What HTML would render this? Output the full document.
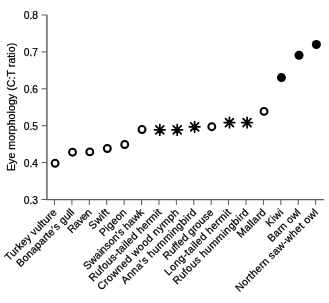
<!DOCTYPE html>
<html><head><meta charset="utf-8"><style>
html,body{margin:0;padding:0;background:#fff;width:329px;height:303px;overflow:hidden}
svg{display:block;font-family:"Liberation Sans",sans-serif;fill:#000;will-change:transform}
text{stroke:#000;stroke-width:0.25px}
</style></head><body>
<svg width="329" height="303" viewBox="0 0 329 303">
<path d="M46.95,15V199.5" stroke="#181818" stroke-width="1" fill="none"/>
<path d="M46.45,199.5H324" stroke="#5e5e5e" stroke-width="1.25" fill="none"/>
<line x1="41.5" y1="199.50" x2="46.95" y2="199.50" stroke="#5a5a5a" stroke-width="1.0"/>
<text x="38" y="203.50" text-anchor="end" font-size="10.3">0.3</text>
<line x1="41.5" y1="162.60" x2="46.95" y2="162.60" stroke="#5a5a5a" stroke-width="1.0"/>
<text x="38" y="166.60" text-anchor="end" font-size="10.3">0.4</text>
<line x1="41.5" y1="125.70" x2="46.95" y2="125.70" stroke="#5a5a5a" stroke-width="1.0"/>
<text x="38" y="129.70" text-anchor="end" font-size="10.3">0.5</text>
<line x1="41.5" y1="88.80" x2="46.95" y2="88.80" stroke="#5a5a5a" stroke-width="1.0"/>
<text x="38" y="92.80" text-anchor="end" font-size="10.3">0.6</text>
<line x1="41.5" y1="51.90" x2="46.95" y2="51.90" stroke="#5a5a5a" stroke-width="1.0"/>
<text x="38" y="55.90" text-anchor="end" font-size="10.3">0.7</text>
<line x1="41.5" y1="15.00" x2="46.95" y2="15.00" stroke="#5a5a5a" stroke-width="1.0"/>
<text x="38" y="19.00" text-anchor="end" font-size="10.3">0.8</text>
<line x1="54.50" y1="199.5" x2="54.50" y2="205" stroke="#5a5a5a" stroke-width="1.0"/>
<line x1="71.91" y1="199.5" x2="71.91" y2="205" stroke="#5a5a5a" stroke-width="1.0"/>
<line x1="89.32" y1="199.5" x2="89.32" y2="205" stroke="#5a5a5a" stroke-width="1.0"/>
<line x1="106.73" y1="199.5" x2="106.73" y2="205" stroke="#5a5a5a" stroke-width="1.0"/>
<line x1="124.14" y1="199.5" x2="124.14" y2="205" stroke="#5a5a5a" stroke-width="1.0"/>
<line x1="141.55" y1="199.5" x2="141.55" y2="205" stroke="#5a5a5a" stroke-width="1.0"/>
<line x1="158.96" y1="199.5" x2="158.96" y2="205" stroke="#5a5a5a" stroke-width="1.0"/>
<line x1="176.37" y1="199.5" x2="176.37" y2="205" stroke="#5a5a5a" stroke-width="1.0"/>
<line x1="193.78" y1="199.5" x2="193.78" y2="205" stroke="#5a5a5a" stroke-width="1.0"/>
<line x1="211.19" y1="199.5" x2="211.19" y2="205" stroke="#5a5a5a" stroke-width="1.0"/>
<line x1="228.60" y1="199.5" x2="228.60" y2="205" stroke="#5a5a5a" stroke-width="1.0"/>
<line x1="246.01" y1="199.5" x2="246.01" y2="205" stroke="#5a5a5a" stroke-width="1.0"/>
<line x1="263.42" y1="199.5" x2="263.42" y2="205" stroke="#5a5a5a" stroke-width="1.0"/>
<line x1="280.83" y1="199.5" x2="280.83" y2="205" stroke="#5a5a5a" stroke-width="1.0"/>
<line x1="298.24" y1="199.5" x2="298.24" y2="205" stroke="#5a5a5a" stroke-width="1.0"/>
<line x1="315.65" y1="199.5" x2="315.65" y2="205" stroke="#5a5a5a" stroke-width="1.0"/>
<circle cx="55.10" cy="163.3" r="3.45" fill="none" stroke="#000" stroke-width="2"/>
<circle cx="72.51" cy="152.2" r="3.45" fill="none" stroke="#000" stroke-width="2"/>
<circle cx="89.76" cy="151.9" r="3.45" fill="none" stroke="#000" stroke-width="2"/>
<circle cx="107.33" cy="148.5" r="3.45" fill="none" stroke="#000" stroke-width="2"/>
<circle cx="124.74" cy="144.5" r="3.45" fill="none" stroke="#000" stroke-width="2"/>
<circle cx="142.03" cy="129.5" r="3.45" fill="none" stroke="#000" stroke-width="2"/>
<path d="M154.51,129.85L165.11,129.85M155.85,125.89L163.77,133.81M159.81,124.55L159.81,135.15M163.77,125.89L155.85,133.81" stroke="#000" stroke-width="1.75" stroke-linecap="round" fill="none"/>
<path d="M171.92,129.85L182.52,129.85M173.26,125.89L181.18,133.81M177.22,124.55L177.22,135.15M181.18,125.89L173.26,133.81" stroke="#000" stroke-width="1.75" stroke-linecap="round" fill="none"/>
<path d="M189.33,126.85L199.93,126.85M190.67,122.89L198.59,130.81M194.63,121.55L194.63,132.15M198.59,122.89L190.67,130.81" stroke="#000" stroke-width="1.75" stroke-linecap="round" fill="none"/>
<circle cx="211.79" cy="126.7" r="3.45" fill="none" stroke="#000" stroke-width="2"/>
<path d="M224.15,122.55L234.75,122.55M225.49,118.59L233.41,126.51M229.45,117.25L229.45,127.85M233.41,118.59L225.49,126.51" stroke="#000" stroke-width="1.75" stroke-linecap="round" fill="none"/>
<path d="M241.75,122.55L252.36,122.55M243.10,118.59L251.01,126.51M247.06,117.25L247.06,127.85M251.01,118.59L243.10,126.51" stroke="#000" stroke-width="1.75" stroke-linecap="round" fill="none"/>
<circle cx="264.02" cy="111.4" r="3.45" fill="none" stroke="#000" stroke-width="2"/>
<circle cx="281.43" cy="77.6" r="4.5" fill="#000"/>
<circle cx="299.02" cy="55.2" r="4.5" fill="#000"/>
<circle cx="316.38" cy="44.5" r="4.5" fill="#000"/>
<text transform="translate(57.50,213.00) rotate(-45)" text-anchor="end" font-size="10.5" textLength="68.77" lengthAdjust="spacing">Turkey vulture</text>
<text transform="translate(74.91,213.00) rotate(-45)" text-anchor="end" font-size="10.5" textLength="77.12" lengthAdjust="spacing">Bonaparte’s gull</text>
<text transform="translate(92.32,213.00) rotate(-45)" text-anchor="end" font-size="10.5" textLength="29.28" lengthAdjust="spacing">Raven</text>
<text transform="translate(109.73,213.00) rotate(-45)" text-anchor="end" font-size="10.5" textLength="23.88" lengthAdjust="spacing">Swift</text>
<text transform="translate(127.14,213.00) rotate(-45)" text-anchor="end" font-size="10.5" textLength="33.55" lengthAdjust="spacing">Pigeon</text>
<text transform="translate(144.55,213.00) rotate(-45)" text-anchor="end" font-size="10.5" textLength="80.80" lengthAdjust="spacing">Swainson’s hawk</text>
<text transform="translate(161.96,213.00) rotate(-45)" text-anchor="end" font-size="10.5" textLength="97.62" lengthAdjust="spacing">Rufous-tailed hermit</text>
<text transform="translate(179.37,213.00) rotate(-45)" text-anchor="end" font-size="10.5" textLength="110.13" lengthAdjust="spacing">Crowned wood nymph</text>
<text transform="translate(196.78,213.00) rotate(-45)" text-anchor="end" font-size="10.5" textLength="101.16" lengthAdjust="spacing">Anna’s hummingbird</text>
<text transform="translate(214.19,213.00) rotate(-45)" text-anchor="end" font-size="10.5" textLength="66.79" lengthAdjust="spacing">Ruffed grouse</text>
<text transform="translate(231.60,213.00) rotate(-45)" text-anchor="end" font-size="10.5" textLength="89.13" lengthAdjust="spacing">Long-tailed hermit</text>
<text transform="translate(249.01,213.00) rotate(-45)" text-anchor="end" font-size="10.5" textLength="101.96" lengthAdjust="spacing">Rufous hummingbird</text>
<text transform="translate(266.42,213.00) rotate(-45)" text-anchor="end" font-size="10.5" textLength="35.85" lengthAdjust="spacing">Mallard</text>
<text transform="translate(283.83,213.00) rotate(-45)" text-anchor="end" font-size="10.5" textLength="19.99" lengthAdjust="spacing">Kiwi</text>
<text transform="translate(301.24,213.00) rotate(-45)" text-anchor="end" font-size="10.5" textLength="41.67" lengthAdjust="spacing">Barn owl</text>
<text transform="translate(318.65,213.00) rotate(-45)" text-anchor="end" font-size="10.5" textLength="112.12" lengthAdjust="spacing">Northern saw-whet owl</text>
<text transform="translate(14.5,106.9) rotate(-90)" text-anchor="middle" font-size="10.5" textLength="128.3" lengthAdjust="spacing">Eye morphology (C:T ratio)</text>
</svg>
</body></html>
